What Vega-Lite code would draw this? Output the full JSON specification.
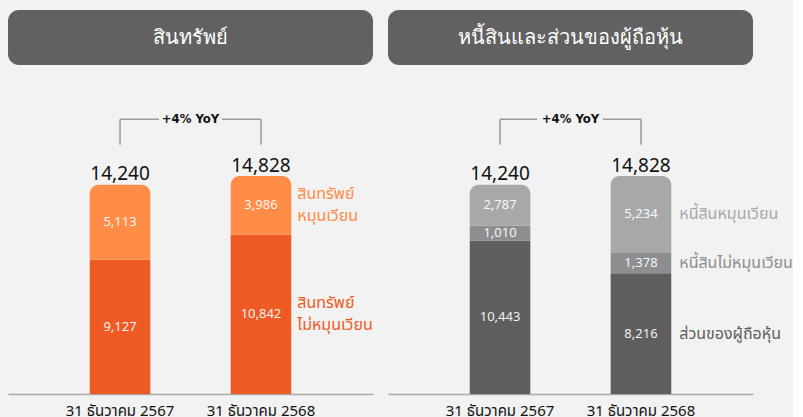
{
  "$schema": "https://vega.github.io/schema/vega-lite/v6.json",
  "background": "#f1f2f1",
  "padding": {"left": 8, "top": 10, "right": 0, "bottom": 0},
  "autosize": {"type": "pad"},
  "bounds": "flush",
  "columns": 2,
  "spacing": {"row": 35, "column": 15},
  "resolve": {"scale": {"color": "independent", "x": "independent", "y": "independent"}},
  "config": {
    "view": {"stroke": null},
    "font": "Noto Sans Thai, Noto Sans, sans-serif",
    "axis": {"labelFont": "Noto Sans Thai, Noto Sans, sans-serif"}
  },
  "datasets": {
    "assets": [
      {"date": "31 ธันวาคม 2567", "cat": "สินทรัพย์ ไม่หมุนเวียน", "value": 9127, "order": 1},
      {"date": "31 ธันวาคม 2567", "cat": "สินทรัพย์ หมุนเวียน", "value": 5113, "order": 2},
      {"date": "31 ธันวาคม 2568", "cat": "สินทรัพย์ ไม่หมุนเวียน", "value": 10842, "order": 1},
      {"date": "31 ธันวาคม 2568", "cat": "สินทรัพย์ หมุนเวียน", "value": 3986, "order": 2}
    ],
    "liab": [
      {"date": "31 ธันวาคม 2567", "cat": "ส่วนของผู้ถือหุ้น", "value": 10443, "order": 1},
      {"date": "31 ธันวาคม 2567", "cat": "หนี้สินไม่หมุนเวียน", "value": 1010, "order": 2},
      {"date": "31 ธันวาคม 2567", "cat": "หนี้สินหมุนเวียน", "value": 2787, "order": 3},
      {"date": "31 ธันวาคม 2568", "cat": "ส่วนของผู้ถือหุ้น", "value": 8216, "order": 1},
      {"date": "31 ธันวาคม 2568", "cat": "หนี้สินไม่หมุนเวียน", "value": 1378, "order": 2},
      {"date": "31 ธันวาคม 2568", "cat": "หนี้สินหมุนเวียน", "value": 5234, "order": 3}
    ]
  },
  "concat": [
    {
      "width": 365, "height": 55,
      "data": {"values": [{"title": "สินทรัพย์"}]},
      "layer": [
        {"mark": {"type": "rect", "color": "#616161", "cornerRadius": 11}, "encoding": {}},
        {"mark": {"type": "text", "color": "white", "fontSize": 20, "font": "DejaVu Sans Condensed", "baseline": "middle"}, "encoding": {"text": {"field": "title"}}}
      ]
    },
    {
      "width": 365, "height": 55,
      "data": {"values": [{"title": "หนี้สินและส่วนของผู้ถือหุ้น"}]},
      "layer": [
        {"mark": {"type": "rect", "color": "#616161", "cornerRadius": 11}, "encoding": {}},
        {"mark": {"type": "text", "color": "white", "fontSize": 20, "font": "DejaVu Sans Condensed", "baseline": "middle"}, "encoding": {"text": {"field": "title"}}}
      ]
    },
    {
      "width": 365, "height": 294,
      "data": {"name": "assets"},
      "transform": [
        {"stack": "value", "groupby": ["date"], "sort": [{"field": "order"}], "as": ["v0", "v1"]},
        {"calculate": "(datum.v0 + datum.v1) / 2", "as": "mid"},
        {"joinaggregate": [{"op": "max", "field": "order", "as": "maxo"}, {"op": "sum", "field": "value", "as": "total"}], "groupby": ["date"]}
      ],
      "encoding": {
        "x": {"field": "date", "type": "nominal", "sort": null,
          "scale": {"paddingInner": 0.57, "paddingOuter": 0.58},
          "axis": {"title": null, "labelAngle": 0, "ticks": false, "domainColor": "#aaaaaa", "domainWidth": 1.5, "labelFontSize": 15, "labelColor": "#111111", "labelPadding": 9}}
      },
      "layer": [
        {
          "transform": [{"filter": "datum.order < datum.maxo"}],
          "mark": {"type": "bar"},
          "encoding": {
            "y": {"field": "v0", "type": "quantitative", "scale": {"domain": [0, 19700]}, "axis": null},
            "y2": {"field": "v1"},
            "color": {"field": "cat", "type": "nominal", "scale": {"domain": ["สินทรัพย์ ไม่หมุนเวียน", "สินทรัพย์ หมุนเวียน"], "range": ["#ee5a24", "#ff8c47"]}, "legend": null}
          }
        },
        {
          "transform": [{"filter": "datum.order == datum.maxo"}],
          "mark": {"type": "bar", "cornerRadiusTopLeft": 9, "cornerRadiusTopRight": 9},
          "encoding": {
            "y": {"field": "v0", "type": "quantitative", "axis": null},
            "y2": {"field": "v1"},
            "color": {"field": "cat", "type": "nominal", "legend": null}
          }
        },
        {
          "mark": {"type": "text", "color": "#ffffff", "fontSize": 13, "baseline": "middle", "opacity": 0.92},
          "encoding": {
            "y": {"field": "mid", "type": "quantitative", "axis": null},
            "text": {"field": "value", "type": "quantitative", "format": ","}
          }
        },
        {
          "transform": [{"filter": "datum.date == '31 ธันวาคม 2568'"}],
          "mark": {"type": "text", "align": "left", "baseline": "middle", "dx": 6, "dy": -11, "fontSize": 16, "lineBreak": " ", "lineHeight": 22},
          "encoding": {
            "x": {"field": "date", "type": "nominal", "sort": null, "bandPosition": 1},
            "y": {"field": "mid", "type": "quantitative", "axis": null},
            "text": {"field": "cat"},
            "color": {"field": "cat", "type": "nominal", "legend": null}
          }
        },
        {
          "transform": [{"filter": "datum.order == datum.maxo"}],
          "mark": {"type": "text", "color": "#111111", "fontSize": 19, "baseline": "alphabetic", "dy": -4.5},
          "encoding": {
            "y": {"field": "total", "type": "quantitative", "axis": null},
            "text": {"field": "total", "type": "quantitative", "format": ","}
          }
        },
        {
          "transform": [{"filter": "datum.order == datum.maxo"}],
          "mark": {"type": "rule", "color": "#9a9a9a", "strokeWidth": 1.5},
          "encoding": {
            "x": {"field": "date", "type": "nominal", "sort": null, "bandPosition": 0.5},
            "y": {"datum": 18695, "type": "quantitative", "axis": null},
            "y2": {"datum": 16950}
          }
        },
        {
          "transform": [{"filter": "datum.order == datum.maxo && datum.date == '31 ธันวาคม 2567'"}],
          "mark": {"type": "rule", "color": "#9a9a9a", "strokeWidth": 1.5, "x2Offset": 39},
          "encoding": {
            "x": {"datum": "31 ธันวาคม 2567", "bandPosition": 0.5},
            "x2": {"datum": "31 ธันวาคม 2567"},
            "y": {"datum": 18695, "type": "quantitative", "axis": null}
          }
        },
        {
          "transform": [{"filter": "datum.order == datum.maxo && datum.date == '31 ธันวาคม 2568'"}],
          "mark": {"type": "rule", "color": "#9a9a9a", "strokeWidth": 1.5, "xOffset": -39},
          "encoding": {
            "x": {"datum": "31 ธันวาคม 2568", "bandPosition": 0.5},
            "x2": {"datum": "31 ธันวาคม 2568"},
            "y": {"datum": 18695, "type": "quantitative", "axis": null}
          }
        },
        {
          "transform": [{"filter": "datum.order == datum.maxo && datum.date == '31 ธันวาคม 2567'"}],
          "mark": {"type": "text", "text": "+4% YoY", "font": "DejaVu Sans Condensed", "fontWeight": "bold", "fontSize": 13, "color": "#111111", "baseline": "middle", "dx": 70.5},
          "encoding": {
            "x": {"datum": "31 ธันวาคม 2567", "bandPosition": 0.5},
            "y": {"datum": 18695, "type": "quantitative", "axis": null}
          }
        }
      ]
    },
    {
      "width": 365, "height": 294,
      "data": {"name": "liab"},
      "transform": [
        {"stack": "value", "groupby": ["date"], "sort": [{"field": "order"}], "as": ["v0", "v1"]},
        {"calculate": "(datum.v0 + datum.v1) / 2", "as": "mid"},
        {"joinaggregate": [{"op": "max", "field": "order", "as": "maxo"}, {"op": "sum", "field": "value", "as": "total"}], "groupby": ["date"]}
      ],
      "encoding": {
        "x": {"field": "date", "type": "nominal", "sort": null,
          "scale": {"paddingInner": 0.57, "paddingOuter": 0.58},
          "axis": {"title": null, "labelAngle": 0, "ticks": false, "domainColor": "#aaaaaa", "domainWidth": 1.5, "labelFontSize": 15, "labelColor": "#111111", "labelPadding": 9}}
      },
      "layer": [
        {
          "transform": [{"filter": "datum.order < datum.maxo"}],
          "mark": {"type": "bar"},
          "encoding": {
            "y": {"field": "v0", "type": "quantitative", "scale": {"domain": [0, 19700]}, "axis": null},
            "y2": {"field": "v1"},
            "color": {"field": "cat", "type": "nominal", "scale": {"domain": ["ส่วนของผู้ถือหุ้น", "หนี้สินไม่หมุนเวียน", "หนี้สินหมุนเวียน"], "range": ["#5e5e5e", "#8d8e90", "#a7a8aa"]}, "legend": null}
          }
        },
        {
          "transform": [{"filter": "datum.order == datum.maxo"}],
          "mark": {"type": "bar", "cornerRadiusTopLeft": 9, "cornerRadiusTopRight": 9},
          "encoding": {
            "y": {"field": "v0", "type": "quantitative", "axis": null},
            "y2": {"field": "v1"},
            "color": {"field": "cat", "type": "nominal", "legend": null}
          }
        },
        {
          "mark": {"type": "text", "color": "#ffffff", "fontSize": 13, "baseline": "middle", "opacity": 0.92},
          "encoding": {
            "y": {"field": "mid", "type": "quantitative", "axis": null},
            "text": {"field": "value", "type": "quantitative", "format": ","}
          }
        },
        {
          "transform": [{"filter": "datum.date == '31 ธันวาคม 2568'"}],
          "mark": {"type": "text", "align": "left", "baseline": "middle", "dx": 8, "fontSize": 16},
          "encoding": {
            "x": {"field": "date", "type": "nominal", "sort": null, "bandPosition": 1},
            "y": {"field": "mid", "type": "quantitative", "axis": null},
            "text": {"field": "cat"},
            "color": {"field": "cat", "type": "nominal", "legend": null}
          }
        },
        {
          "transform": [{"filter": "datum.order == datum.maxo"}],
          "mark": {"type": "text", "color": "#111111", "fontSize": 19, "baseline": "alphabetic", "dy": -4.5},
          "encoding": {
            "y": {"field": "total", "type": "quantitative", "axis": null},
            "text": {"field": "total", "type": "quantitative", "format": ","}
          }
        },
        {
          "transform": [{"filter": "datum.order == datum.maxo"}],
          "mark": {"type": "rule", "color": "#9a9a9a", "strokeWidth": 1.5},
          "encoding": {
            "x": {"field": "date", "type": "nominal", "sort": null, "bandPosition": 0.5},
            "y": {"datum": 18695, "type": "quantitative", "axis": null},
            "y2": {"datum": 16950}
          }
        },
        {
          "transform": [{"filter": "datum.order == datum.maxo && datum.date == '31 ธันวาคม 2567'"}],
          "mark": {"type": "rule", "color": "#9a9a9a", "strokeWidth": 1.5, "x2Offset": 37},
          "encoding": {
            "x": {"datum": "31 ธันวาคม 2567", "bandPosition": 0.5},
            "x2": {"datum": "31 ธันวาคม 2567"},
            "y": {"datum": 18695, "type": "quantitative", "axis": null}
          }
        },
        {
          "transform": [{"filter": "datum.order == datum.maxo && datum.date == '31 ธันวาคม 2568'"}],
          "mark": {"type": "rule", "color": "#9a9a9a", "strokeWidth": 1.5, "xOffset": -38},
          "encoding": {
            "x": {"datum": "31 ธันวาคม 2568", "bandPosition": 0.5},
            "x2": {"datum": "31 ธันวาคม 2568"},
            "y": {"datum": 18695, "type": "quantitative", "axis": null}
          }
        },
        {
          "transform": [{"filter": "datum.order == datum.maxo && datum.date == '31 ธันวาคม 2567'"}],
          "mark": {"type": "text", "text": "+4% YoY", "font": "DejaVu Sans Condensed", "fontWeight": "bold", "fontSize": 13, "color": "#111111", "baseline": "middle", "dx": 70.5},
          "encoding": {
            "x": {"datum": "31 ธันวาคม 2567", "bandPosition": 0.5},
            "y": {"datum": 18695, "type": "quantitative", "axis": null}
          }
        }
      ]
    }
  ]
}
